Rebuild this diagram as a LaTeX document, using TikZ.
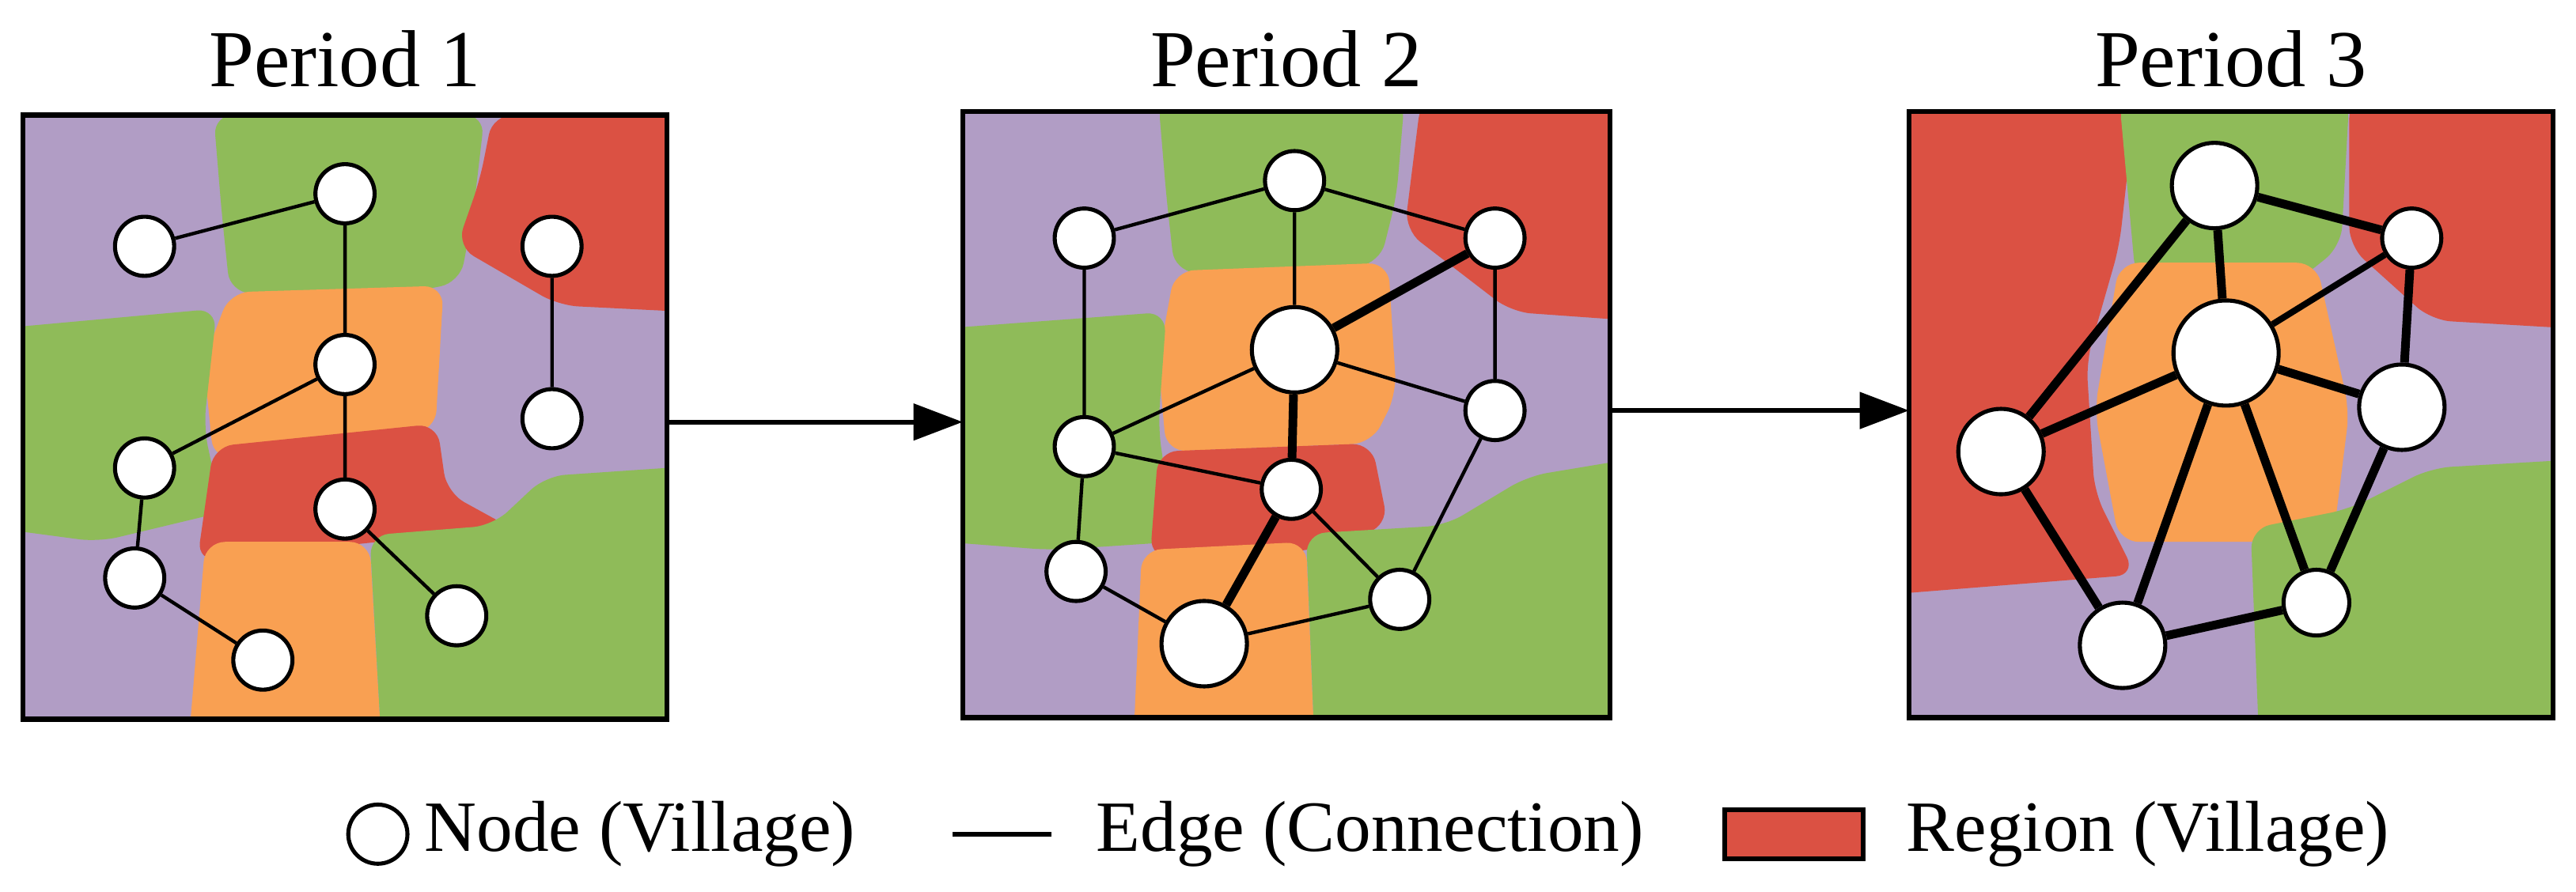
\documentclass[tikz,border=0pt]{standalone}
\usepackage{fontspec}
\setmainfont{Liberation Serif}
\usetikzlibrary{arrows.meta}
\definecolor{regpurple}{RGB}{177,157,197}
\definecolor{reggreen}{RGB}{143,187,89}
\definecolor{regred}{RGB}{219,81,67}
\definecolor{regorange}{RGB}{249,160,82}

\begin{document}
\begin{tikzpicture}[x=0.01cm,y=-0.01cm,
		village/.style={
		% The shape:
		circle,
		% The border:
		draw=black,
		line width=0.7pt,
		% The filling:
		fill=white,
		inner sep=0pt,
		minimum size=0.36cm
		},
		big/.style={minimum size=0.52cm},
		huge/.style={minimum size=0.64cm},
		link/.style={line width=0.6pt},
		strong/.style={line width=1.5pt},
		region/.style={rounded corners=0.12cm},
		panel/.style={line width=0.9pt},
		title/.style={font=\fontsize{14}{16}\selectfont},
		legend/.style={font=\fontsize{12.5}{15}\selectfont, anchor=west}
	]
	\useasboundingbox (0,0) rectangle (1568,543);

	% Period 1
	\begin{scope}
		\clip (14,70) rectangle (406,438);
		\fill[regpurple] (14,70) rectangle (406,438);
		\fill[reggreen, region] (130,70) -- (295,70) -- (288,130) -- (280,172) -- (230,182) -- (140,178) -- (135,130) -- cycle;
		\fill[regred, region] (300,70) -- (420,70) -- (420,190) -- (340,186) -- (278,150) -- (292,110) -- cycle;
		\fill[regorange, region] (140,178) -- (270,174) -- (265,262) -- (130,280) -- (124,220) -- cycle;
		\fill[reggreen, region] (0,200) -- (132,188) -- (124,260) -- (135,312) -- (60,330) -- (0,322) -- cycle;
		\fill[regred, region] (130,272) -- (266,258) -- (272,300) -- (312,322) -- (230,330) -- (120,342) -- cycle;
		\fill[regorange, region] (125,330) -- (225,330) -- (232,450) -- (115,450) -- cycle;
		\fill[reggreen, region] (225,326) -- (300,320) -- (332,290) -- (420,284) -- (420,450) -- (232,450) -- cycle;
	\end{scope}
	\draw[panel] (14,70) rectangle (406,438);
	\node (T1)[title] at (210,36) {Period 1};

	\node (a1)[village] at (88,150) {};
	\node (b1)[village] at (210,118) {};
	\node (c1)[village] at (336,150) {};
	\node (d1)[village] at (210,222) {};
	\node (e1)[village] at (336,255) {};
	\node (f1)[village] at (88,285) {};
	\node (g1)[village] at (210,310) {};
	\node (h1)[village] at (82,352) {};
	\node (i1)[village] at (160,402) {};
	\node (j1)[village] at (278,375) {};
	\draw[link] (a1) -- (b1) (b1) -- (d1) (d1) -- (f1) (d1) -- (g1) (c1) -- (e1)
		(f1) -- (h1) (h1) -- (i1) (g1) -- (j1);

	% Period 2
	\begin{scope}
		\clip (586,68) rectangle (980,437);
		\fill[regpurple] (586,68) rectangle (980,437);
		\fill[reggreen, region] (705,60) -- (855,60) -- (850,120) -- (840,160) -- (780,170) -- (715,165) -- (710,120) -- cycle;
		\fill[regred, region] (865,60) -- (990,60) -- (990,195) -- (920,190) -- (855,140) -- (860,100) -- cycle;
		\fill[regorange, region] (715,165) -- (845,160) -- (850,240) -- (835,270) -- (710,275) -- (705,220) -- cycle;
		\fill[reggreen, region] (575,200) -- (710,190) -- (705,260) -- (715,330) -- (640,335) -- (575,330) -- cycle;
		\fill[regred, region] (705,275) -- (835,270) -- (845,320) -- (800,335) -- (700,340) -- cycle;
		\fill[regorange, region] (695,335) -- (795,330) -- (800,450) -- (690,450) -- cycle;
		\fill[reggreen, region] (795,325) -- (880,320) -- (930,290) -- (990,280) -- (990,450) -- (800,450) -- cycle;
	\end{scope}
	\draw[panel] (586,68) rectangle (980,437);
	\node (T2)[title] at (783,36) {Period 2};

	\node (a2)[village] at (660,145) {};
	\node (b2)[village] at (788,110) {};
	\node (c2)[village] at (910,145) {};
	\node (d2)[village, big] at (788,213) {};
	\node (e2)[village] at (910,250) {};
	\node (f2)[village] at (660,272) {};
	\node (g2)[village] at (786,298) {};
	\node (h2)[village] at (655,348) {};
	\node (i2)[village, big] at (733,392) {};
	\node (j2)[village] at (852,365) {};
	\draw[link] (a2) -- (b2) (b2) -- (c2) (b2) -- (d2) (a2) -- (f2) (d2) -- (f2)
		(f2) -- (g2) (d2) -- (e2) (c2) -- (e2) (f2) -- (h2) (h2) -- (i2)
		(i2) -- (j2) (j2) -- (e2) (g2) -- (j2);
	\draw[strong] (d2) -- (c2) (d2) -- (g2) (g2) -- (i2);

	% Period 3
	\begin{scope}
		\clip (1162,68) rectangle (1554,437);
		\fill[regpurple] (1162,68) rectangle (1554,437);
		\fill[regred, region] (1150,60) -- (1300,60) -- (1290,150) -- (1270,220) -- (1275,300) -- (1300,350) -- (1150,362) -- cycle;
		\fill[reggreen, region] (1290,60) -- (1430,60) -- (1425,150) -- (1400,170) -- (1300,170) -- cycle;
		\fill[regred, region] (1430,60) -- (1565,60) -- (1565,200) -- (1480,195) -- (1430,150) -- cycle;
		\fill[regorange, region] (1290,160) -- (1410,160) -- (1430,250) -- (1420,330) -- (1290,330) -- (1275,250) -- cycle;
		\fill[reggreen, region] (1370,322) -- (1430,310) -- (1480,285) -- (1565,280) -- (1565,450) -- (1375,450) -- cycle;
	\end{scope}
	\draw[panel] (1162,68) rectangle (1554,437);
	\node (T3)[title] at (1358,36) {Period 3};

	\node (a3)[village, big] at (1348,113) {};
	\node (b3)[village] at (1468,145) {};
	\node (c3)[village, huge] at (1355,215) {};
	\node (d3)[village, big] at (1462,248) {};
	\node (e3)[village, big] at (1218,275) {};
	\node (f3)[village, big] at (1292,393) {};
	\node (g3)[village, minimum size=0.4cm] at (1410,367) {};
	\draw[strong] (a3) -- (b3) (a3) -- (c3) (a3) -- (e3) (b3) -- (d3) (c3) -- (e3)
		(c3) -- (d3) (c3) -- (f3) (c3) -- (g3) (d3) -- (g3) (e3) -- (f3) (f3) -- (g3);
	\draw[line width=1.1pt] (c3) -- (b3);

	% arrows between periods
	\coordinate (p1e) at (406,257);
	\coordinate (p2w) at (586,257);
	\coordinate (p2e) at (980,250);
	\coordinate (p3w) at (1162,250);
	\draw[line width=0.8pt, -{Triangle[length=0.3cm,width=0.22cm]}] (p1e) -- (p2w);
	\draw[line width=0.8pt, -{Triangle[length=0.3cm,width=0.22cm]}] (p2e) -- (p3w);

	% legend
	\node (LN)[village] at (230,508) {};
	\node (LNt)[legend] at (246,508) {Node (Village)};
	\coordinate (LE1) at (580,508);
	\coordinate (LE2) at (640,508);
	\draw[line width=0.8pt] (LE1) -- (LE2);
	\node (LEt)[legend] at (655,508) {Edge (Connection)};
	\node (LR)[draw, line width=0.8pt, fill=regred, minimum width=0.84cm, minimum height=0.3cm, inner sep=0pt] at (1092,508) {};
	\node (LRt)[legend] at (1148,508) {Region (Village)};
\end{tikzpicture}
\end{document}
